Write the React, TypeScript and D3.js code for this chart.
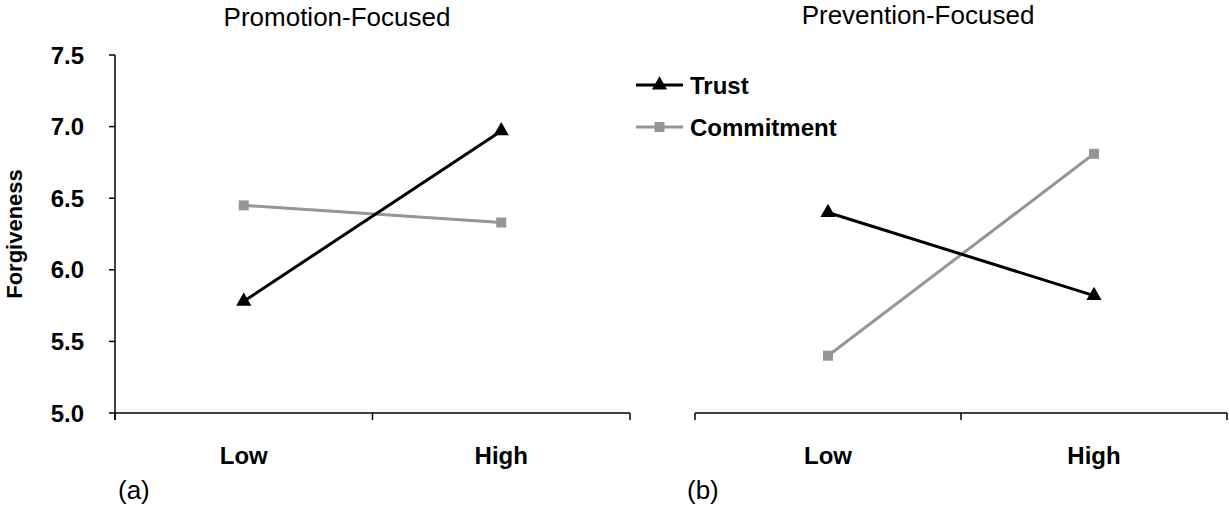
import React from "react";
import * as d3 from "d3";

const levels = ["Low", "High"];
const yTicks = [5.0, 5.5, 6.0, 6.5, 7.0, 7.5];
const panelTitles = ["Promotion-Focused", "Prevention-Focused"];
const panelLabels = ["(a)", "(b)"];
const seriesNames = ["Trust", "Commitment"];
const promotionTrust = [5.78, 6.97];
const promotionCommitment = [6.45, 6.33];
const preventionTrust = [6.4, 5.82];
const preventionCommitment = [5.4, 6.81];

const W = 1229;
const H = 529;
const FONT = "'Liberation Sans', Arial, Helvetica, sans-serif";

const panels = [
  { x0: 115, x1: 630, title: panelTitles[0], label: panelLabels[0], trust: promotionTrust, commit: promotionCommitment, yAxis: true, titleX: 337, titleY: 26, labelX: 118 },
  { x0: 695, x1: 1227, title: panelTitles[1], label: panelLabels[1], trust: preventionTrust, commit: preventionCommitment, yAxis: false, titleX: 918, titleY: 24, labelX: 687 },
];

const y = d3.scaleLinear().domain([5.0, 7.5]).range([413, 55]);

const triPath = d3.symbol(d3.symbolTriangle, 100)() as string;
const sqPath = d3.symbol(d3.symbolSquare, 100)() as string;

const BLACK = "#000000";
const GRAY = "#969696";

export default function App() {
  return (
    <svg width={W} height={H} style={{ position: "absolute", left: 0, top: 0, background: "#fff" }} fontFamily={FONT}>
      <rect width={W} height={H} fill="#fff" />
      {panels.map((p, pi) => {
        const x = d3.scaleBand().domain(levels).range([p.x0, p.x1]);
        const cx = (d: string) => (x(d) as number) + x.bandwidth() / 2;
        const line = d3
          .line<number>()
          .x((_, i) => cx(levels[i]))
          .y((v) => y(v));
        const edges = [p.x0, ...levels.map((l) => (x(l) as number) + x.bandwidth())];
        return (
          <g key={pi}>
            <text x={p.titleX} y={p.titleY} textAnchor="middle" fontSize={26} fill="#000">
              {p.title}
            </text>
            <line x1={p.x0} x2={p.x1} y1={y(5.0)} y2={y(5.0)} stroke="#000" strokeWidth={1.5} />
            {edges.map((e, i) => (
              <line key={i} x1={e} x2={e} y1={y(5.0)} y2={y(5.0) + 7} stroke="#000" strokeWidth={1.5} />
            ))}
            {levels.map((l) => (
              <text key={l} x={cx(l)} y={464} textAnchor="middle" fontSize={24} fontWeight="bold">
                {l}
              </text>
            ))}
            {p.yAxis && (
              <g>
                <line x1={p.x0} x2={p.x0} y1={y(7.5)} y2={y(5.0) + 7} stroke="#000" strokeWidth={1.5} />
                {yTicks.map((t) => (
                  <g key={t}>
                    <line x1={p.x0 - 6} x2={p.x0} y1={y(t)} y2={y(t)} stroke="#000" strokeWidth={1.5} />
                    <text x={84} y={y(t) + 8.5} textAnchor="end" fontSize={24} fontWeight="bold">
                      {d3.format(".1f")(t)}
                    </text>
                  </g>
                ))}
                <text
                  transform={`translate(22, ${y(6.25)}) rotate(-90)`}
                  textAnchor="middle"
                  fontSize={22}
                  fontWeight="bold"
                >
                  Forgiveness
                </text>
              </g>
            )}
            <path d={line(p.commit) as string} fill="none" stroke={GRAY} strokeWidth={3} />
            {p.commit.map((v, i) => (
              <path key={i} d={sqPath} transform={`translate(${cx(levels[i])},${y(v)})`} fill={GRAY} />
            ))}
            <path d={line(p.trust) as string} fill="none" stroke={BLACK} strokeWidth={3} />
            {p.trust.map((v, i) => (
              <path key={i} d={triPath} transform={`translate(${cx(levels[i])},${y(v)})`} fill={BLACK} />
            ))}
            <text x={p.labelX} y={499} fontSize={26}>
              {p.label}
            </text>
          </g>
        );
      })}
      {seriesNames.map((s, i) => {
        const ly = 85 + i * 42;
        const col = i === 0 ? BLACK : GRAY;
        return (
          <g key={s}>
            <line x1={636} x2={683} y1={ly} y2={ly} stroke={col} strokeWidth={3} />
            <path d={i === 0 ? triPath : sqPath} transform={`translate(659.5,${ly})`} fill={col} />
            <text x={690} y={ly + 8.5} fontSize={24} fontWeight="bold">
              {s}
            </text>
          </g>
        );
      })}
    </svg>
  );
}
